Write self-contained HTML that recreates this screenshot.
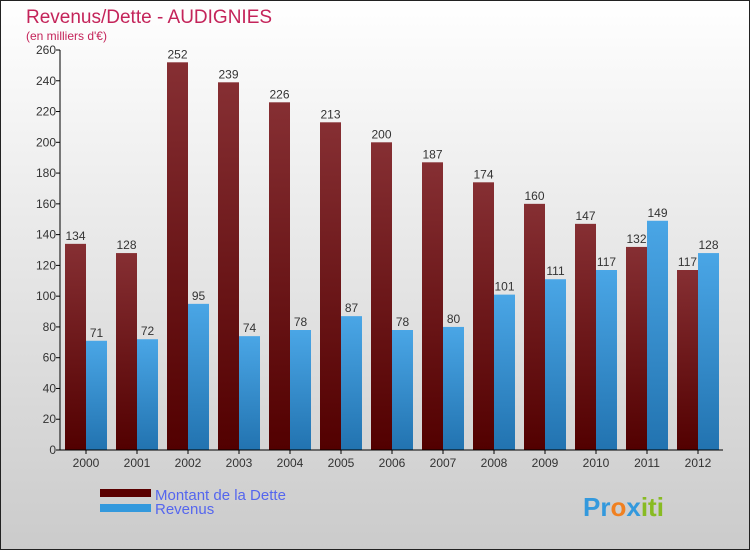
<!DOCTYPE html>
<html><head><meta charset="utf-8"><style>
body{margin:0;width:750px;height:550px;overflow:hidden}
svg{display:block;font-family:"Liberation Sans","DejaVu Sans",sans-serif}
</style></head><body>
<svg width="750" height="550" xmlns="http://www.w3.org/2000/svg">
<defs>
<linearGradient id="bg" x1="0" y1="0" x2="0" y2="1"><stop offset="0" stop-color="#ffffff"/><stop offset="1" stop-color="#cbcbcb"/></linearGradient>
<linearGradient id="gd" x1="0" y1="0" x2="0" y2="1"><stop offset="0" stop-color="#862f33"/><stop offset="1" stop-color="#520000"/></linearGradient>
<linearGradient id="gr" x1="0" y1="0" x2="0" y2="1"><stop offset="0" stop-color="#4aa6e6"/><stop offset="1" stop-color="#2273b0"/></linearGradient>
</defs>
<rect x="0.5" y="0.5" width="749" height="549" fill="url(#bg)" stroke="#222"/>
<text x="26" y="23" font-size="19" fill="#c4245a">Revenus/Dette - AUDIGNIES</text>
<text x="26" y="40" font-size="12" fill="#c4245a">(en milliers d'€)</text>
<g id="plot"></g>
<g>
<rect x="100" y="489" width="51" height="8" fill="#5a0000"/>
<rect x="100" y="504" width="51" height="8" fill="#3399dd"/>
<text x="155" y="500" font-size="15" fill="#5566ee">Montant de la Dette</text>
<text x="155" y="514" font-size="15" fill="#5566ee">Revenus</text>
</g>
<text x="583" y="516" font-size="26" font-weight="bold" fill="#3399dd"><tspan fill="#3399dd">Pr</tspan><tspan fill="#f08020">o</tspan><tspan fill="#3399dd">x</tspan><tspan fill="#88bb22">iti</tspan></text>
</svg>
<script>
const years=["2000","2001","2002","2003","2004","2005","2006","2007","2008","2009","2010","2011","2012"];
const dette=[134,128,252,239,226,213,200,187,174,160,147,132,117];
const revenus=[71,72,95,74,78,87,78,80,101,111,117,149,128];
const ticks=[0,20,40,60,80,100,120,140,160,180,200,220,240,260];
const NS="http://www.w3.org/2000/svg";
const g=document.getElementById('plot');
const x0=60,step=51,yb=450,yt=50,ymax=260;
const y=v=>yb-(v/ymax)*(yb-yt);
function mk(t,a,txt){const e=document.createElementNS(NS,t);for(const k in a)e.setAttribute(k,a[k]);if(txt!==undefined)e.textContent=txt;g.appendChild(e);return e;}
ticks.forEach(t=>{
 const l=mk('line',{x1:x0-4,x2:x0,y1:y(t),y2:y(t),stroke:'#000'});
 
 
 const tx=mk('text',{x:x0-4,y:y(t)+4,'font-size':12,fill:'#333','text-anchor':'end'},t);
 
 
});
years.forEach((yr,i)=>{
 const gx=x0+i*step;
 const b1=mk('rect',{x:gx+5,y:y(dette[i]),width:21,height:yb-y(dette[i]),fill:'url(#gd)'});
 
 
 const b2=mk('rect',{x:gx+26,y:y(revenus[i]),width:21,height:yb-y(revenus[i]),fill:'url(#gr)'});
 
 
 const l1=mk('text',{x:gx+15.5,y:y(dette[i])-4,'font-size':12,fill:'#333','text-anchor':'middle'},dette[i]);
 
 
 const l2=mk('text',{x:gx+36.5,y:y(revenus[i])-4,'font-size':12,fill:'#333','text-anchor':'middle'},revenus[i]);
 
 
 const xl=mk('text',{x:gx+26,y:467,'font-size':12,fill:'#333','text-anchor':'middle'},yr);
 
 
 const xt=mk('line',{x1:gx+26,x2:gx+26,y1:yb,y2:yb+4,stroke:'#000'});
 
 
});
const ya=mk('line',{x1:x0,x2:x0,y1:yt,y2:yb,stroke:'#000'});


const xa=mk('line',{x1:x0,x2:x0+years.length*step,y1:yb,y2:yb,stroke:'#000'});


</script>
</body></html>
